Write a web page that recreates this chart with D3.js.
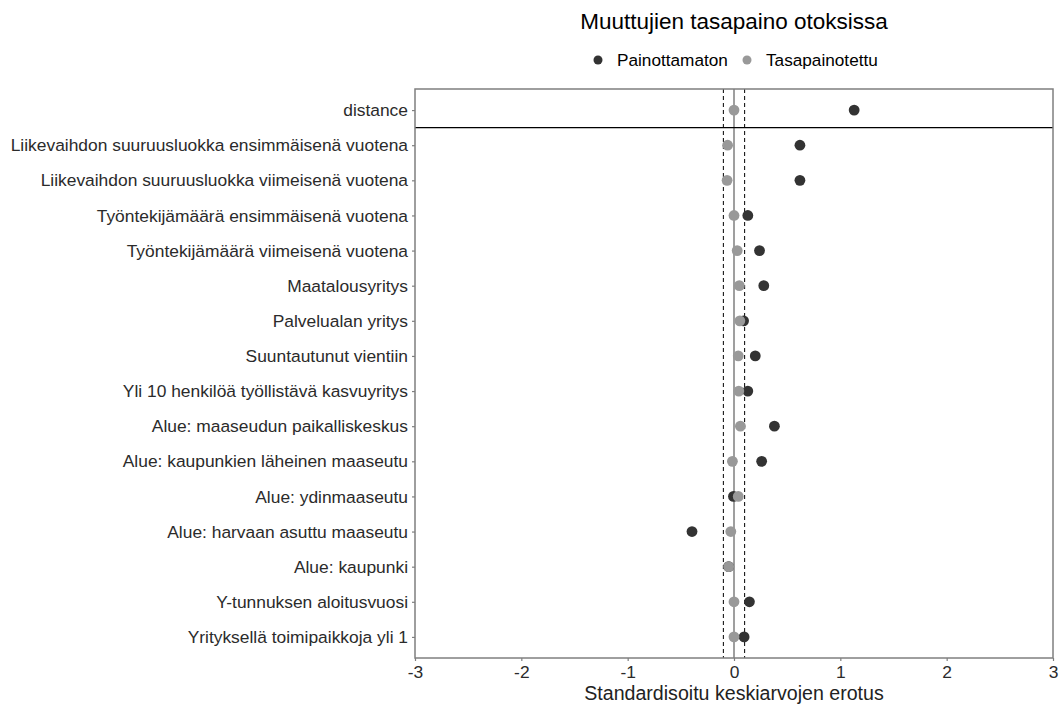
<!DOCTYPE html>
<html>
<head>
<meta charset="utf-8">
<script src="https://cdn.jsdelivr.net/npm/d3@7"></script>
<style>
  body { margin: 0; background: #fff; }
  text { font-family: "Liberation Sans", Arial, sans-serif; }
</style>
</head>
<body>
<div id="chart"></div>
<script>

// variables, top to bottom
var variables = [
  "distance",
  "Liikevaihdon suuruusluokka ensimmäisenä vuotena",
  "Liikevaihdon suuruusluokka viimeisenä vuotena",
  "Työntekijämäärä ensimmäisenä vuotena",
  "Työntekijämäärä viimeisenä vuotena",
  "Maatalousyritys",
  "Palvelualan yritys",
  "Suuntautunut vientiin",
  "Yli 10 henkilöä työllistävä kasvuyritys",
  "Alue: maaseudun paikalliskeskus",
  "Alue: kaupunkien läheinen maaseutu",
  "Alue: ydinmaaseutu",
  "Alue: harvaan asuttu maaseutu",
  "Alue: kaupunki",
  "Y-tunnuksen aloitusvuosi",
  "Yrityksellä toimipaikkoja yli 1"
];
var unweighted = [1.13, 0.62, 0.62, 0.13, 0.24, 0.28, 0.09, 0.20, 0.13, 0.38, 0.26, -0.005, -0.395, -0.05, 0.145, 0.095];
var balanced   = [0.00, -0.06, -0.065, 0.00, 0.03, 0.05, 0.055, 0.04, 0.045, 0.06, -0.015, 0.04, -0.03, -0.05, 0.00, 0.00];
var seriesNames = ["Painottamaton", "Tasapainotettu"];
var seriesColors = ["#333333", "#999999"];
var xTicks = [-3, -2, -1, 0, 1, 2, 3];
var threshold = 0.1;

var W = 1061, H = 707;
var margin = {top: 89, right: 8, bottom: 49, left: 415};
var width = W - margin.left - margin.right,
    height = H - margin.top - margin.bottom;

var svg = d3.select("#chart")
  .append("svg")
    .attr("width", W)
    .attr("height", H);

var g = svg.append("g")
    .attr("transform", "translate(" + margin.left + "," + margin.top + ")");

var x = d3.scaleLinear()
  .domain([-3, 3])
  .range([0, width]);

// ggplot style discrete expansion: 0.6 units on each end
var step = height / (variables.length - 1 + 1.2);
var y = d3.scalePoint()
  .domain(variables)
  .range([0.6 * step, height - 0.6 * step]);

// reference lines
g.append("line")
  .attr("x1", x(0)).attr("x2", x(0))
  .attr("y1", 0).attr("y2", height)
  .style("stroke", "#7f7f7f").style("stroke-width", 1.5);

[-threshold, threshold].forEach(function(t) {
  g.append("line")
    .attr("x1", x(t)).attr("x2", x(t))
    .attr("y1", 0).attr("y2", height)
    .style("stroke", "#000").style("stroke-width", 1)
    .style("stroke-dasharray", "4,3");
});

// line separating distance from the covariates
var sepY = (y(variables[0]) + y(variables[1])) / 2;
g.append("line")
  .attr("x1", 0).attr("x2", width)
  .attr("y1", sepY).attr("y2", sepY)
  .style("stroke", "#000").style("stroke-width", 1.3);

// points: unweighted first, balanced on top
[unweighted, balanced].forEach(function(vals, s) {
  g.selectAll(null)
    .data(vals)
    .enter().append("circle")
      .attr("cx", function(d) { return x(d); })
      .attr("cy", function(d, i) { return y(variables[i]); })
      .attr("r", 5.4)
      .style("fill", seriesColors[s]);
});

// axes
var xAxis = g.append("g")
  .attr("transform", "translate(0," + height + ")")
  .call(d3.axisBottom(x).tickValues(xTicks).tickSize(3).tickPadding(5).tickFormat(d3.format("d")));
var yAxis = g.append("g")
  .call(d3.axisLeft(y).tickSize(3).tickPadding(4));

[xAxis, yAxis].forEach(function(a) {
  a.select(".domain").remove();
  a.selectAll(".tick line").style("stroke", "#7f7f7f").style("stroke-width", 1.2);
  a.selectAll(".tick text")
    .style("font-size", "17.4px")
    .style("fill", "#2b2b2b")
    .style("font-family", "'Liberation Sans', Arial, sans-serif");
});
xAxis.selectAll(".tick text").text(function(d) { return d < 0 ? "-" + Math.abs(d) : d; });

// panel border
g.append("rect")
  .attr("x", 0).attr("y", 0)
  .attr("width", width).attr("height", height)
  .style("fill", "none")
  .style("stroke", "#7f7f7f").style("stroke-width", 1.5);

// axis title
svg.append("text")
  .attr("x", margin.left + x(0))
  .attr("y", 700)
  .attr("text-anchor", "middle")
  .style("font-size", "19.6px")
  .style("fill", "#222")
  .text("Standardisoitu keskiarvojen erotus");

// title
svg.append("text")
  .attr("x", margin.left + x(0))
  .attr("y", 29)
  .attr("text-anchor", "middle")
  .style("font-size", "22.5px")
  .style("fill", "#000")
  .text("Muuttujien tasapaino otoksissa");

// legend
var legend = svg.append("g").attr("transform", "translate(598,60)");
var legX = [0, 149];
seriesNames.forEach(function(name, i) {
  legend.append("circle")
    .attr("cx", legX[i]).attr("cy", 0)
    .attr("r", 4.5)
    .style("fill", seriesColors[i]);
  legend.append("text")
    .attr("x", legX[i] + 19).attr("y", 6)
    .style("font-size", "17.2px")
    .style("fill", "#000")
    .text(name);
});
</script>
</body>
</html>
